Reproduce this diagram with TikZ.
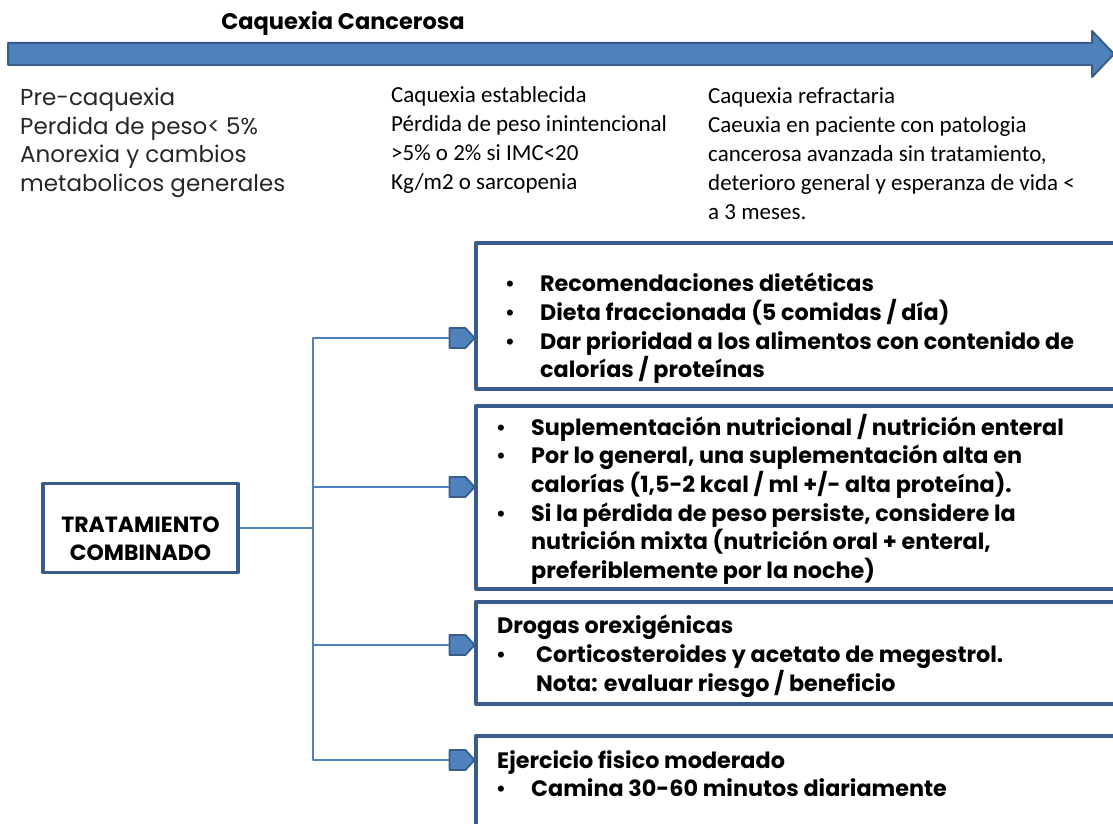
\documentclass[tikz,border=0pt]{standalone}
\usepackage{fontspec}
\setmainfont{Poppins}
\newfontfamily\calfont{Carlito}
\newfontfamily\bulfont{Liberation Sans}
\usetikzlibrary{positioning,shapes.symbols}
\definecolor{azul}{HTML}{4F81BD}
\definecolor{azulosc}{HTML}{385D8A}
\tikzset{
  caja/.style={draw=azulosc, line width=3.5pt, anchor=north west, inner sep=0pt, minimum width=651pt},
  punta/.style={signal, signal to=east, signal pointer angle=95, fill=azul, draw=azulosc, line width=1.8pt,
    minimum width=25pt, minimum height=20pt, inner sep=0pt},
  rama/.style={azul, line width=2.5pt},
  lista/.style={anchor=north west, align=left, inner sep=0pt, font=\bfseries\fontsize{22.3}{28.6}\selectfont},
  etapa/.style={anchor=north west, align=left, inner sep=0pt, font=\calfont\fontsize{23}{29}\selectfont},
}
\newcommand{\vin}[1][34pt]{\makebox[#1][l]{\bulfont\mdseries •}}
\begin{document}
\begin{tikzpicture}[x=1pt, y=-1pt, line join=round]
\useasboundingbox (0,0) rectangle (1113,824);
% flecha superior
\node[font=\bfseries\fontsize{22.5}{24}\selectfont] (titulo) at (343,23) {Caquexia Cancerosa};
\filldraw[fill=azul, draw=azulosc, line width=2pt]
  (8,43) -- (1092,43) -- (1092,31) -- (1114,54) -- (1092,77) -- (1092,65) -- (8,65) -- cycle;
% etapas
\node[anchor=north west, align=left, inner sep=0pt, text=black!85, font=\fontsize{23}{28.5}\selectfont] (pre) at (20,88)
  {Pre-caquexia\\ Perdida de peso< 5\%\\ Anorexia y cambios\\ metabolicos generales};
\node[etapa] (est) at (391,86.5)
  {Caquexia establecida\\ Pérdida de peso inintencional\\ >5\% o 2\% si IMC<20\\ Kg/m2 o sarcopenia};
\node[etapa] (ref) at (708,87)
  {Caquexia refractaria\\ Caeuxia en paciente con patologia\\ cancerosa avanzada sin tratamiento,\\
   deterioro general y esperanza de vida <\\ a 3 meses.};
% tratamiento
\node[draw=azulosc, line width=3.5pt, minimum width=195pt, minimum height=89pt,
  label={[align=center, yshift=-11pt, font=\bfseries\fontsize{22}{28}\selectfont]center:TRATAMIENTO\\ COMBINADO}]
  (tc) at (140.5,528) {};
\node[caja, minimum height=146pt] (b1) at (474,241) {};
\node[caja, minimum height=183pt] (b2) at (474,404) {};
\node[caja, minimum height=102pt] (b3) at (474,600) {};
\node[caja, minimum height=110pt] (b4) at (474,734) {};
\node[lista, below right=32pt and 32pt of b1.north west] (t1)
  {\vin Recomendaciones dietéticas\\
   \vin Dieta fraccionada (5 comidas / día)\\
   \vin Dar prioridad a los alimentos con contenido de\\
   \hspace*{34pt}calorías / proteínas};
\node[lista, below right=10pt and 23pt of b2.north west] (t2)
  {\vin Suplementación nutricional / nutrición enteral\\
   \vin Por lo general, una suplementación alta en\\
   \hspace*{34pt}calorías (1,5-2 kcal / ml +/- alta proteína).\\
   \vin Si la pérdida de peso persiste, considere la\\
   \hspace*{34pt}nutrición mixta (nutrición oral + enteral,\\
   \hspace*{34pt}preferiblemente por la noche)};
\node[lista, below right=15pt and 23pt of b3.north west] (t3)
  {Drogas orexigénicas\\
   \vin[39pt]Corticosteroides y acetato de megestrol.\\
   \hspace*{39pt}Nota: evaluar riesgo / beneficio};
\node[lista, below right=16pt and 23pt of b4.north west] (t4)
  {Ejercicio fisico moderado\\
   \vin Camina 30-60 minutos diariamente};
% conectores
\node[punta] (p1) at (457.5,338) {};
\node[punta] (p2) at (457.5,487) {};
\node[punta] (p3) at (457.5,645) {};
\node[punta] (p4) at (457.5,760) {};
\coordinate (j) at (313,528);
\draw[rama] (tc.east) -- (j);
\draw[rama] (p1.west) -| (j) |- (p4.west);
\draw[rama] (j |- p2.west) -- (p2.west);
\draw[rama] (j |- p3.west) -- (p3.west);
\end{tikzpicture}
\end{document}
